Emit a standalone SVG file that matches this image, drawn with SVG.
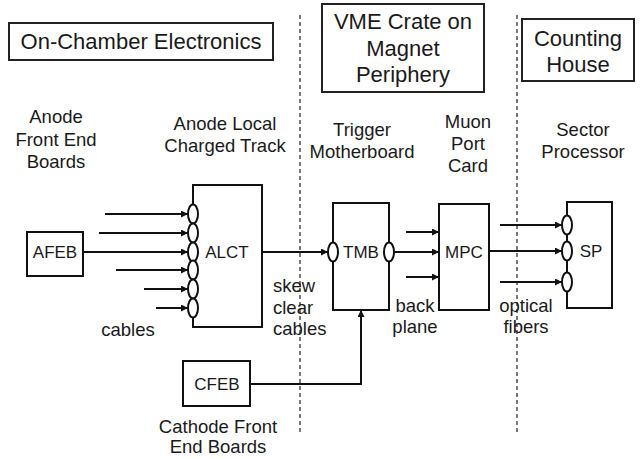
<svg xmlns="http://www.w3.org/2000/svg" width="644" height="459" viewBox="0 0 644 459">
<defs>
<marker id="ah" viewBox="0 0 10 10" refX="10" refY="5" markerWidth="8" markerHeight="7" markerUnits="userSpaceOnUse" orient="auto">
<path d="M0,0 L10,5 L0,10 z" fill="#111"/>
</marker>
<style>
text{font-family:"Liberation Sans",Arial,sans-serif;fill:#1a1a1a;text-anchor:middle}
.t{font-size:22px}
.l{font-size:18.5px}
.n{font-size:17px}
.box{fill:#fff;stroke:#111;stroke-width:2}
.hdr{fill:#fff;stroke:#222;stroke-width:2}
.port{fill:#fff;stroke:#111;stroke-width:2}
.c{fill:none;stroke:#111;stroke-width:2;marker-end:url(#ah)}
.p{fill:none;stroke:#111;stroke-width:2}
.d{fill:none;stroke:#333;stroke-width:1.3;stroke-dasharray:4 3}
</style>
</defs>
<rect width="644" height="459" fill="#fff"/>

<g id="dividers">
<line class="d" x1="300" y1="15" x2="300" y2="432"/>
<line class="d" x1="517" y1="15" x2="517" y2="432"/>
</g>

<g id="hdr-onchamber">
<rect class="hdr" x="9" y="23" width="264" height="37"/>
<text class="t" x="141" y="49">On-Chamber Electronics</text>
</g>
<g id="hdr-vme">
<rect class="hdr" x="322" y="4" width="162" height="88"/>
<text class="t" x="403" y="29">VME Crate on</text>
<text class="t" x="403" y="56">Magnet</text>
<text class="t" x="403" y="82">Periphery</text>
</g>
<g id="hdr-counting">
<rect class="hdr" x="522" y="19" width="112" height="62"/>
<text class="t" x="578" y="46">Counting</text>
<text class="t" x="578" y="72">House</text>
</g>

<g id="labels">
<text class="l" x="56" y="123">Anode</text>
<text class="l" x="56" y="146">Front End</text>
<text class="l" x="56" y="168">Boards</text>
<text class="l" x="225" y="130">Anode Local</text>
<text class="l" x="225" y="152">Charged Track</text>
<text class="l" x="362" y="136">Trigger</text>
<text class="l" x="362" y="158">Motherboard</text>
<text class="l" x="468" y="128">Muon</text>
<text class="l" x="468" y="150">Port</text>
<text class="l" x="468" y="172">Card</text>
<text class="l" x="583" y="136">Sector</text>
<text class="l" x="583" y="158">Processor</text>
<text class="l" x="128" y="336">cables</text>
<text class="l" x="273" y="292" style="text-anchor:start">skew</text>
<text class="l" x="273" y="314" style="text-anchor:start">clear</text>
<text class="l" x="273" y="335" style="text-anchor:start">cables</text>
<text class="l" x="415" y="312">back</text>
<text class="l" x="415" y="333">plane</text>
<text class="l" x="526" y="312">optical</text>
<text class="l" x="526" y="333">fibers</text>
<text class="l" x="218" y="433">Cathode Front</text>
<text class="l" x="218" y="453">End Boards</text>
</g>

<g id="connectors">
<line class="c" x1="105" y1="214" x2="188" y2="214"/>
<line class="c" x1="99" y1="233" x2="188" y2="233"/>
<line class="c" x1="83" y1="252" x2="188" y2="252"/>
<line class="c" x1="116" y1="270" x2="188" y2="270"/>
<line class="c" x1="144" y1="289" x2="188" y2="289"/>
<line class="c" x1="156" y1="308" x2="188" y2="308"/>
<line class="c" x1="262" y1="252" x2="328" y2="252"/>
<line class="c" x1="394" y1="252" x2="439" y2="252"/>
<line class="c" x1="406" y1="232" x2="439" y2="232"/>
<line class="c" x1="406" y1="277" x2="439" y2="277"/>
<line class="c" x1="489" y1="251" x2="562" y2="251"/>
<line class="c" x1="500" y1="225" x2="562" y2="225"/>
<line class="c" x1="500" y1="282" x2="562" y2="282"/>
<path class="c" d="M250,384 H361 V310"/>
</g>

<g id="afeb">
<rect class="box" x="27" y="232" width="56" height="44"/>
<text class="n" x="55" y="258">AFEB</text>
</g>

<g id="alct">
<rect class="box" x="193" y="185" width="69" height="142"/>
<ellipse class="port" cx="193" cy="214" rx="5" ry="9.5"/>
<ellipse class="port" cx="193" cy="233" rx="5" ry="9.5"/>
<ellipse class="port" cx="193" cy="252" rx="5" ry="9.5"/>
<ellipse class="port" cx="193" cy="270" rx="5" ry="9.5"/>
<ellipse class="port" cx="193" cy="289" rx="5" ry="9.5"/>
<ellipse class="port" cx="193" cy="308" rx="5" ry="9.5"/>
<text class="n" x="227" y="258">ALCT</text>
</g>

<g id="tmb">
<rect class="box" x="333" y="203" width="56" height="107"/>
<ellipse class="port" cx="333" cy="252" rx="5" ry="9.5"/>
<ellipse class="port" cx="389" cy="252" rx="5" ry="9.5"/>
<text class="n" x="361" y="258">TMB</text>
</g>

<g id="mpc">
<rect class="box" x="439" y="204" width="50" height="106"/>
<text class="n" x="464" y="258">MPC</text>
</g>

<g id="sp">
<rect class="box" x="567" y="202" width="45" height="106"/>
<ellipse class="port" cx="567" cy="225" rx="5" ry="9.5"/>
<ellipse class="port" cx="567" cy="251" rx="5" ry="9.5"/>
<ellipse class="port" cx="567" cy="282" rx="5" ry="9.5"/>
<text class="n" x="591" y="257">SP</text>
</g>

<g id="cfeb">
<rect class="box" x="183" y="361" width="67" height="45"/>
<text class="n" x="217" y="390">CFEB</text>
</g>
</svg>
